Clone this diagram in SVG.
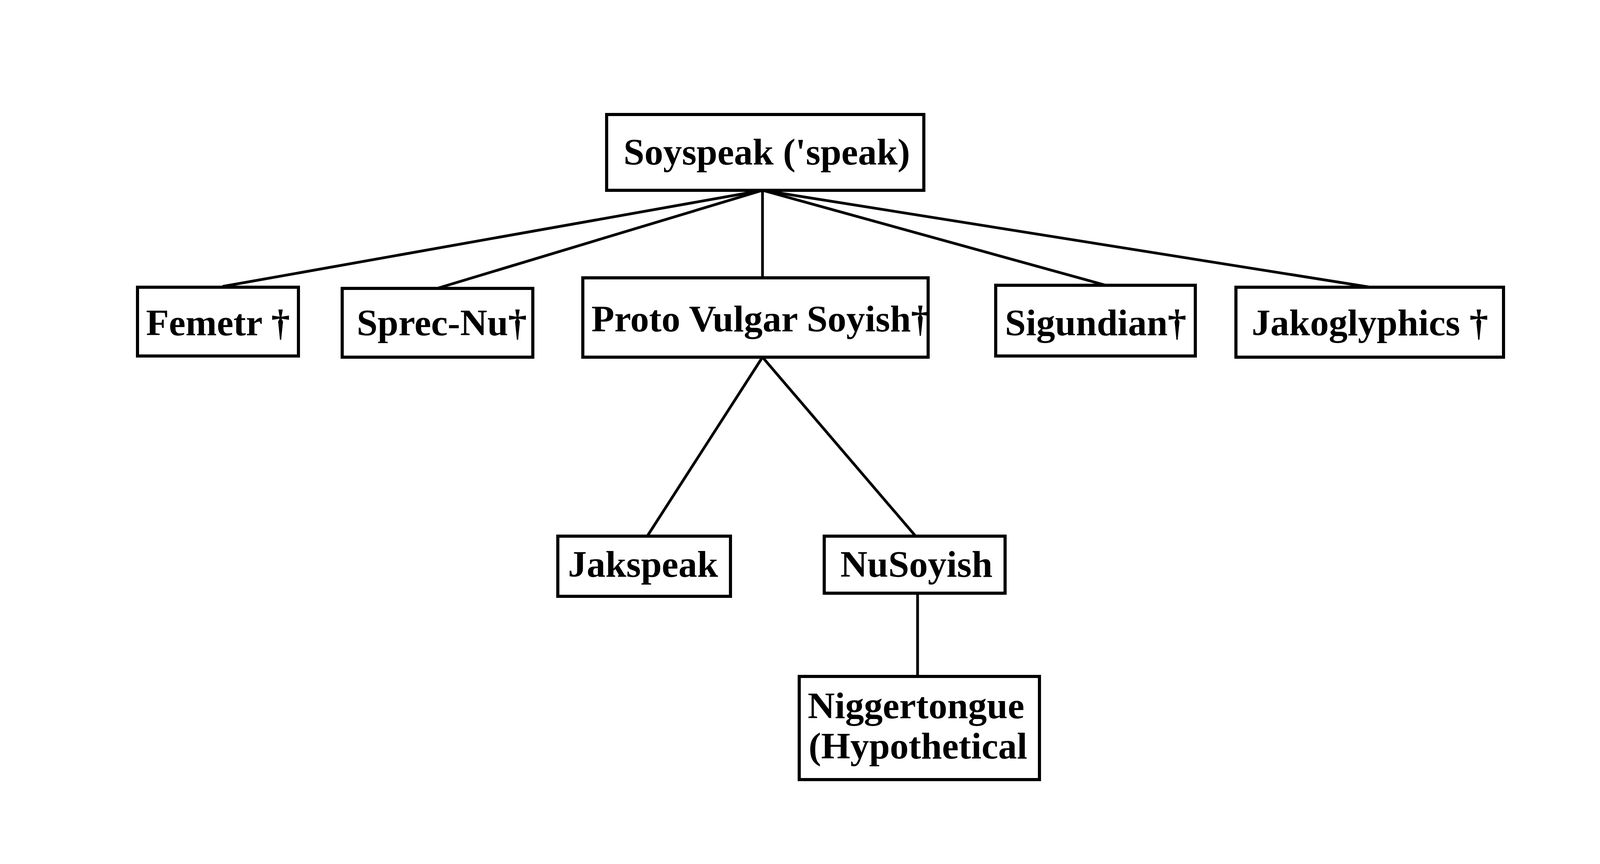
<svg xmlns="http://www.w3.org/2000/svg" width="4155" height="2211" viewBox="0 0 4155 2211">
<style>
.box{fill:#fff;stroke:#000;stroke-width:8}
.lbl{font-family:"Liberation Serif","Times New Roman",serif;font-weight:bold;font-size:96px;fill:#000;text-anchor:middle}
.edge{stroke:#000;stroke-width:7;fill:none}
</style>
<rect width="4155" height="2211" fill="#fff"/>
<g id="connectors">
<line class="edge" x1="1952" y1="487" x2="570" y2="733"/>
<line class="edge" x1="1952" y1="487" x2="1119" y2="738"/>
<line class="edge" x1="1952" y1="487" x2="1952" y2="711"/>
<line class="edge" x1="1952" y1="487" x2="2831" y2="730"/>
<line class="edge" x1="1952" y1="487" x2="3508" y2="735"/>
<line class="edge" x1="1952" y1="914" x2="1657" y2="1372"/>
<line class="edge" x1="1952" y1="914" x2="2344" y2="1372"/>
<line class="edge" x1="2349" y1="1518" x2="2349" y2="1731"/>
</g>
<g id="soyspeak">
<rect class="box" x="1553" y="293" width="812" height="194"/>
<text class="lbl" x="1963" y="421">Soyspeak ('speak)</text>
</g>
<g id="femetr">
<rect class="box" x="352" y="735" width="412" height="176"/>
<text class="lbl" x="558" y="858">Femetr †</text>
</g>
<g id="sprec-nu">
<rect class="box" x="876" y="738" width="488" height="176"/>
<text class="lbl" x="1131" y="858">Sprec-Nu†</text>
</g>
<g id="proto-vulgar-soyish">
<rect class="box" x="1492" y="711" width="884" height="203"/>
<text class="lbl" x="1947" y="848">Proto Vulgar Soyish†</text>
</g>
<g id="sigundian">
<rect class="box" x="2549" y="730" width="511" height="181"/>
<text class="lbl" x="2805" y="858">Sigundian†</text>
</g>
<g id="jakoglyphics">
<rect class="box" x="3164" y="735" width="685" height="179"/>
<text class="lbl" x="3507" y="858">Jakoglyphics †</text>
</g>
<g id="jakspeak">
<rect class="box" x="1428" y="1372" width="442" height="154"/>
<text class="lbl" x="1646" y="1476">Jakspeak</text>
</g>
<g id="nusoyish">
<rect class="box" x="2110" y="1372" width="463" height="146"/>
<text class="lbl" x="2346" y="1476">NuSoyish</text>
</g>
<g id="niggertongue">
<rect class="box" x="2046" y="1731" width="615" height="264"/>
<text class="lbl" x="2345" y="1838">Niggertongue</text>
<text class="lbl" x="2350" y="1941">(Hypothetical</text>
</g>
</svg>
